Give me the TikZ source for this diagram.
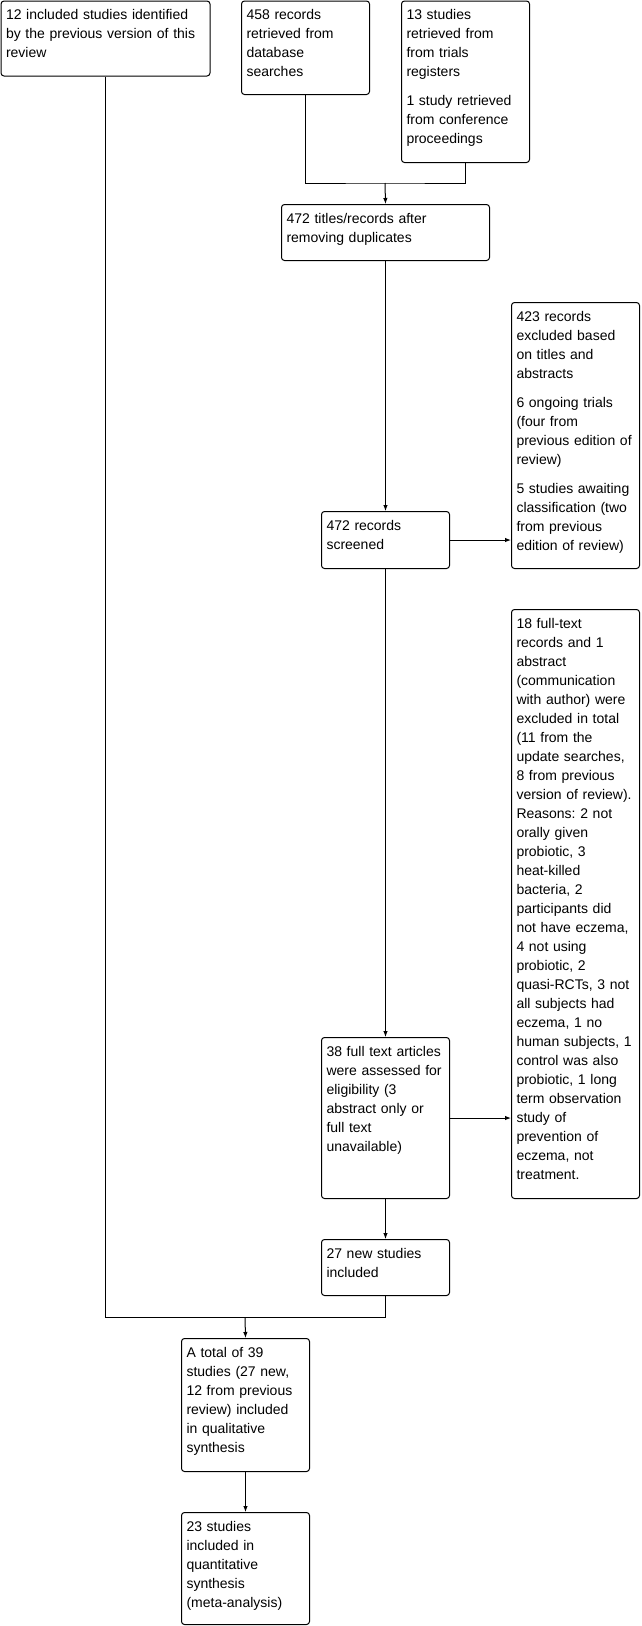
\documentclass[tikz,border=0pt]{standalone}
\usepackage{fontspec}
\setmainfont{Liberation Sans}
\frenchspacing
\usetikzlibrary{arrows.meta}
\tikzset{
  bx/.style={draw=black, line width=1pt, rounded corners=3pt, anchor=north west,
    align=left, inner xsep=5pt, inner ysep=0pt,
    font=\fontsize{14pt}{19pt}\selectfont\frenchspacing, text height=19pt},
  conn/.style={line width=1pt, draw=black},
  arr/.style={conn, -{Latex[length=6pt,width=4.5pt]}}
}
\begin{document}
\begin{tikzpicture}[x=1pt,y=-1pt]
\useasboundingbox[fill=white] (0,0) rectangle (642,1626);
% boxes
\node[bx, text width=199pt, text depth=56.5pt, text height=18.5pt] (A) at (0.5,0.5)
  {12 included studies identified\\by the previous version of this\\review};
\node[bx, text width=118pt, text depth=75pt, text height=18.5pt] (B) at (241,0.5)
  {458 records\\retrieved from\\database\\searches};
\node[bx, text width=118pt, text depth=143pt, text height=18.5pt] (C) at (401,0.5)
  {13 studies\\retrieved from\\from trials\\registers\\[10pt]1 study retrieved\\from conference\\proceedings};
\node[bx, text width=198pt, text depth=37pt] (D) at (281,204)
  {472 titles/records after\\removing duplicates};
\node[bx, text width=118pt, text depth=247pt] (E) at (511,302)
  {423 records\\excluded based\\on titles and\\abstracts\\[10pt]6 ongoing trials\\(four from\\previous edition of\\review)\\[10pt]5 studies awaiting\\classification (two\\from previous\\edition of review)};
\node[bx, text width=118pt, text depth=38pt] (F) at (321,511)
  {472 records\\screened};
\node[bx, text width=118pt, text depth=570pt] (G) at (511,609)
  {18 full-text\\records and 1\\abstract\\(communication\\with author) were\\excluded in total\\(11 from the\\update searches,\\8 from previous\\version of review).\\Reasons: 2 not\\orally given\\probiotic, 3\\heat-killed\\bacteria, 2\\participants did\\not have eczema,\\4 not using\\probiotic, 2\\quasi-RCTs, 3 not\\all subjects had\\eczema, 1 no\\human subjects, 1\\control was also\\probiotic, 1 long\\term observation\\study of\\prevention of\\eczema, not\\treatment.};
\node[bx, text width=118pt, text depth=142pt] (H) at (321,1037)
  {38 full text articles\\were assessed for\\eligibility (3\\abstract only or\\full text\\unavailable)};
\node[bx, text width=118pt, text depth=37pt] (I) at (321,1239)
  {27 new studies\\included};
\node[bx, text width=118pt, text depth=114pt] (J) at (181,1338)
  {A total of 39\\studies (27 new,\\12 from previous\\review) included\\in qualitative\\synthesis};
\node[bx, text width=118pt, text depth=93pt] (K) at (181,1512)
  {23 studies\\included in\\quantitative\\synthesis\\(meta-analysis)};
% junctions
\coordinate (m1) at (385,183);
\coordinate (m2) at (245,1317);
% connectors
\draw[conn] (B.south) |- (m1) -| (C.south);
\draw[arr] (m1) -- (D.north);
\draw[arr] (D.south) -- (F.north);
\draw[arr] (F.east) -- (E.west |- F.east);
\draw[arr] (F.south) -- (H.north);
\draw[arr] (H.east) -- (G.west |- H.east);
\draw[arr] (H.south) -- (I.north);
\draw[conn] (A.south) |- (m2) -| (I.south);
\draw[arr] (m2) -- (J.north);
\draw[arr] (J.south) -- (K.north);
\end{tikzpicture}
\end{document}
